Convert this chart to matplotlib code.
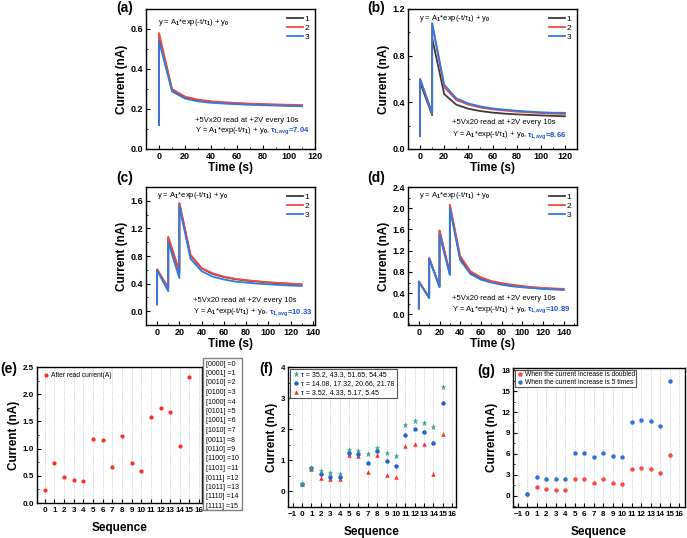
import matplotlib
matplotlib.use('Agg')
import matplotlib.pyplot as plt
from matplotlib.ticker import MultipleLocator
from matplotlib.offsetbox import TextArea, HPacker, AnchoredOffsetbox
from matplotlib.patches import Rectangle

plt.rcParams['font.family'] = ['Liberation Sans', 'DejaVu Sans']
plt.rcParams['font.weight'] = 'bold'
plt.rcParams['axes.labelweight'] = 'bold'
plt.rcParams['mathtext.fontset'] = 'custom'
plt.rcParams['mathtext.rm'] = 'Liberation Sans'
plt.rcParams['mathtext.it'] = 'Liberation Sans:italic'
plt.rcParams['mathtext.bf'] = 'Liberation Sans:bold'

# ---------------- data ----------------
time_a = [0, 0, 10, 20, 30, 40, 50, 60, 70, 80, 90, 100, 110]
a_1 = [0.12, 0.57, 0.295, 0.258, 0.243, 0.236, 0.231, 0.227, 0.225, 0.222, 0.220, 0.219, 0.217]
a_2 = [0.12, 0.58, 0.300, 0.262, 0.247, 0.239, 0.234, 0.230, 0.227, 0.225, 0.223, 0.221, 0.219]
a_3 = [0.12, 0.54, 0.288, 0.252, 0.238, 0.231, 0.227, 0.224, 0.221, 0.219, 0.217, 0.215, 0.214]

time_b = [0, 0, 10, 10, 20, 30, 40, 50, 60, 70, 80, 90, 100, 110, 120]
b_1 = [0.11, 0.57, 0.29, 0.95, 0.47, 0.38, 0.345, 0.325, 0.312, 0.303, 0.297, 0.292, 0.288, 0.284, 0.28]
b_2 = [0.11, 0.60, 0.30, 1.07, 0.53, 0.42, 0.38, 0.355, 0.34, 0.33, 0.32, 0.314, 0.308, 0.303, 0.30]
b_3 = [0.11, 0.60, 0.31, 1.08, 0.55, 0.435, 0.39, 0.365, 0.348, 0.337, 0.328, 0.321, 0.315, 0.311, 0.31]

time_c = [0, 0, 10, 10, 20, 20, 30, 40, 50, 60, 70, 80, 90, 100, 110, 120, 130]
c_1 = [0.10, 0.60, 0.34, 1.06, 0.57, 1.56, 0.81, 0.62, 0.54, 0.495, 0.465, 0.445, 0.43, 0.415, 0.405, 0.395, 0.385]
c_2 = [0.10, 0.61, 0.33, 1.08, 0.58, 1.57, 0.82, 0.625, 0.55, 0.50, 0.47, 0.45, 0.435, 0.42, 0.41, 0.40, 0.39]
c_3 = [0.10, 0.59, 0.29, 1.00, 0.48, 1.52, 0.76, 0.58, 0.50, 0.46, 0.43, 0.415, 0.40, 0.39, 0.38, 0.372, 0.365]

time_d = [0, 0, 10, 10, 20, 20, 30, 30, 40, 50, 60, 70, 80, 90, 100, 110, 120, 130, 140]
d_1 = [0.11, 0.62, 0.31, 1.06, 0.52, 1.58, 0.76, 2.05, 1.05, 0.78, 0.67, 0.61, 0.57, 0.54, 0.52, 0.50, 0.49, 0.48, 0.47]
d_2 = [0.11, 0.62, 0.32, 1.06, 0.53, 1.57, 0.78, 2.07, 1.10, 0.81, 0.70, 0.63, 0.59, 0.56, 0.535, 0.515, 0.50, 0.49, 0.48]
d_3 = [0.11, 0.61, 0.31, 1.05, 0.51, 1.50, 0.74, 2.00, 1.02, 0.76, 0.655, 0.60, 0.56, 0.53, 0.51, 0.495, 0.48, 0.47, 0.46]

curve_labels = ['1', '2', '3']
tau_avg = ['7.04', '8.66', '10.33', '10.89']

sequence = list(range(16))
e_current = [0.24, 0.74, 0.48, 0.42, 0.41, 1.17, 1.15, 0.67, 1.23, 0.73, 0.58, 1.59, 1.75, 1.68, 1.04, 2.32]
codes = ['[0000] =0', '[0001] =1', '[0010] =2', '[0100] =3', '[1000] =4', '[0101] =5',
         '[1001] =6', '[1010] =7', '[0011] =8', '[0110] =9', '[1100] =10', '[1101] =11',
         '[0111] =12', '[1011] =13', '[1110] =14', '[1111] =15']

f_star = [0.25, 0.75, 0.67, 0.60, 0.55, 1.34, 1.30, 1.20, 1.40, 1.25, 1.13, 2.14, 2.27, 2.21, 2.06, 3.35]
f_circ = [0.24, 0.74, 0.56, 0.48, 0.45, 1.22, 1.19, 0.91, 1.30, 0.99, 0.82, 1.83, 2.00, 1.91, 1.57, 2.84]
f_tri = [0.24, 0.73, 0.42, 0.40, 0.40, 1.18, 1.15, 0.62, 1.18, 0.53, 0.46, 1.47, 1.54, 1.52, 0.57, 1.85]
f_labels = ['τ = 35.2, 43.3, 51.65, 54.45', 'τ = 14.08, 17.32, 20.66, 21.78', 'τ = 3.52, 4.33, 5.17, 5.45']

g_double = [0.24, 1.2, 0.95, 0.85, 0.85, 2.35, 2.35, 1.85, 2.45, 1.9, 1.75, 3.8, 3.95, 3.85, 3.25, 5.8]
g_five = [0.24, 2.7, 2.45, 2.4, 2.35, 6.1, 6.1, 5.6, 6.2, 5.65, 5.5, 10.6, 10.8, 10.7, 10.0, 16.5]
g_labels = ['When the current increase is doubled', 'When the current increase is 5 times']

# ---------------- layout ----------------
W, H = 687, 538
fig = plt.figure(figsize=(W / 100, H / 100), dpi=100)


def add_ax(l, t, r, b):
    return fig.add_axes([l / W, 1 - b / H, (r - l) / W, (b - t) / H])


C_BLACK = '#3c3c3c'
C_RED = '#f24a40'
C_BLUE = '#2f7ae5'
C_TAU = '#1f4fd0'


def style(ax, fs):
    for s in ax.spines.values():
        s.set_linewidth(1.0)
    ax.tick_params(which='major', direction='in', length=3, width=0.8, labelsize=fs, pad=2)
    ax.tick_params(which='minor', direction='in', length=1.6, width=0.6)


def bold_ticks(ax):
    fig.canvas.draw()
    for lab in ax.get_xticklabels() + ax.get_yticklabels():
        lab.set_fontweight('bold')


def time_panel(ax, t, ys, xlim, ylim, xmaj, ymaj, top_xy, bot_x, bot_y1, bot_y2, tau, dotted=None):
    for y, c, lab in zip(ys, [C_BLACK, C_RED, C_BLUE], curve_labels):
        ax.plot(t, y, color=c, lw=1.3, label=lab)
    if dotted is not None:
        ax.plot(dotted, [ylim[0], ylim[0]], color=C_BLUE, lw=1.0, ls=':', clip_on=False)
    ax.set_xlim(*xlim)
    ax.set_ylim(*ylim)
    ax.xaxis.set_major_locator(MultipleLocator(xmaj))
    ax.xaxis.set_minor_locator(MultipleLocator(xmaj / 2))
    ax.yaxis.set_major_locator(MultipleLocator(ymaj))
    ax.yaxis.set_minor_locator(MultipleLocator(ymaj / 2))
    style(ax, 6.5)
    ax.set_xlabel('Time (s)', fontsize=8.5, labelpad=1, fontweight='bold')
    ax.set_ylabel('Current (nA)', fontsize=8.5, labelpad=2, fontweight='bold')
    ax.legend(loc='upper right', frameon=False, handlelength=1.9,
              labelspacing=0.15, handletextpad=0.2, borderaxespad=0.3,
              prop={'weight': 'normal', 'size': 6})
    ax.text(top_xy[0], top_xy[1], r'y = A$_1$*exp(-t/τ$_1$) + y$_0$', transform=ax.transAxes,
            fontsize=5.5, fontweight='normal', va='center', ha='left')
    ax.text(bot_x, bot_y1, '+5Vx20 read at +2V every 10s', transform=ax.transAxes,
            fontsize=5.5, fontweight='normal', va='center', ha='left')
    ta1 = TextArea(r'Y = A$_1$*exp(-t/τ$_1$) + y$_0$, ',
                   textprops=dict(fontsize=5.5, color='k', fontweight='normal'))
    ta2 = TextArea(r'τ$_{\mathbf{1,avg}}$=' + tau,
                   textprops=dict(fontsize=5.5, color=C_TAU, fontweight='bold'))
    box = HPacker(children=[ta1, ta2], align='baseline', pad=0, sep=0)
    ab = AnchoredOffsetbox(loc='center left', child=box, pad=0, frameon=False,
                           bbox_to_anchor=(bot_x, bot_y2), bbox_transform=ax.transAxes, borderpad=0)
    ax.add_artist(ab)


ax_a = add_ax(146, 9, 315, 149)
time_panel(ax_a, time_a, [a_1, a_2, a_3], (-10, 120), (0, 0.7), 20, 0.2,
           (0.07, 0.9), 0.29, 0.2, 0.13, tau_avg[0], dotted=[95, 120])

ax_b = add_ax(408, 9, 577, 149)
time_panel(ax_b, time_b, [b_1, b_2, b_3], (-10, 130), (0, 1.2), 20, 0.4,
           (0.065, 0.93), 0.26, 0.19, 0.1, tau_avg[1], dotted=[108, 130])

ax_c = add_ax(146, 187, 315, 325)
time_panel(ax_c, time_c, [c_1, c_2, c_3], (-10, 142), (-0.2, 1.8), 20, 0.4,
           (0.065, 0.94), 0.28, 0.18, 0.094, tau_avg[2], dotted=[122, 142])

ax_d = add_ax(408, 187, 577, 325)
time_panel(ax_d, time_d, [d_1, d_2, d_3], (-10.5, 153), (-0.2, 2.4), 20, 0.4,
           (0.065, 0.94), 0.26, 0.19, 0.11, tau_avg[3])


def seq_style(ax, xlim, ylim, xticks, ymaj):
    ax.set_xlim(*xlim)
    ax.set_ylim(*ylim)
    ax.set_xticks(xticks)
    ax.yaxis.set_major_locator(MultipleLocator(ymaj))
    ax.yaxis.set_minor_locator(MultipleLocator(ymaj / 2))
    ax.grid(axis='x', ls=':', color='#bdbdbd', lw=0.6)
    ax.set_axisbelow(True)
    style(ax, 5.8)
    ax.tick_params(axis='x', pad=3)
    ax.set_xlabel('Sequence', fontsize=8.5, labelpad=6, fontweight='bold')
    ax.set_ylabel('Current (nA)', fontsize=8.5, labelpad=2, fontweight='bold')


# (e)
ax_e = add_ax(37, 367, 202, 503)
ax_e.plot(sequence, e_current, 'o', color='#ff2a2a', ms=3, mec='none', label='After read current(A)')
seq_style(ax_e, (-0.8, 16.3), (0, 2.5), list(range(0, 17)), 0.5)
ax_e.legend(loc='upper left', frameon=False, prop={'weight': 'normal', 'size': 4.8},
            handletextpad=0.3, borderaxespad=0.4, handlelength=1.0)

# code table next to (e)
fig.patches.append(Rectangle((203 / W, 1 - 510 / H), 39 / W, 152 / H, transform=fig.transFigure,
                             fill=False, edgecolor='#808080', lw=1.0))
for i, code in enumerate(codes):
    fig.text(206 / W, 1 - (364 + i * 9.5) / H, code, fontsize=5, fontweight='normal',
             va='center', ha='left')

# (f)
ax_f = add_ax(288, 367, 456, 507)
ax_f.plot(sequence, f_tri, '^', color='#ff2a2a', ms=3.2, mec='none', label=f_labels[2])
ax_f.plot(sequence, f_circ, 'o', color='#1f5fdc', ms=3.2, mec='none', label=f_labels[1])
ax_f.plot(sequence, f_star, '*', color='#2aa383', ms=4.5, mec='none', label=f_labels[0])
seq_style(ax_f, (-1.5, 16.4), (-0.5, 4), list(range(-1, 17)), 1)
h, l = ax_f.get_legend_handles_labels()
lg = ax_f.legend(h[::-1], l[::-1], loc='upper left', prop={'weight': 'normal', 'size': 5},
                 fancybox=False, edgecolor='#555555', framealpha=1, handletextpad=0.3,
                 borderaxespad=0.3, handlelength=1.0, labelspacing=0.3, borderpad=0.3)
lg.get_frame().set_linewidth(0.8)

# (g)
ax_g = add_ax(513, 368, 685, 507)
ax_g.plot(sequence, g_double, 'o', color='#ff4545', ms=3.2, mec='none', label=g_labels[0])
ax_g.plot(sequence, g_five, 'o', color='#2f6fe0', ms=3.2, mec='none', label=g_labels[1])
seq_style(ax_g, (-1.5, 16.6), (-1.6, 18.3), list(range(-1, 17)), 3)
lg = ax_g.legend(loc='upper left', prop={'weight': 'normal', 'size': 4.8},
                 fancybox=False, edgecolor='#555555', framealpha=1, handletextpad=0.3,
                 borderaxespad=0.3, handlelength=1.0, labelspacing=0.1, borderpad=0.2)
lg.get_frame().set_linewidth(0.8)

for ax in [ax_a, ax_b, ax_c, ax_d, ax_e, ax_f, ax_g]:
    bold_ticks(ax)

# panel labels
for lab, x, y in [('(a)', 125, 8), ('(b)', 376, 8), ('(c)', 125, 178), ('(d)', 376, 178),
                  ('(e)', 9, 369), ('(f)', 266, 369), ('(g)', 486, 371)]:
    fig.text(x / W, 1 - y / H, lab, fontsize=10, fontweight='bold', ha='center', va='center')

fig.savefig('out.png', dpi=100)
